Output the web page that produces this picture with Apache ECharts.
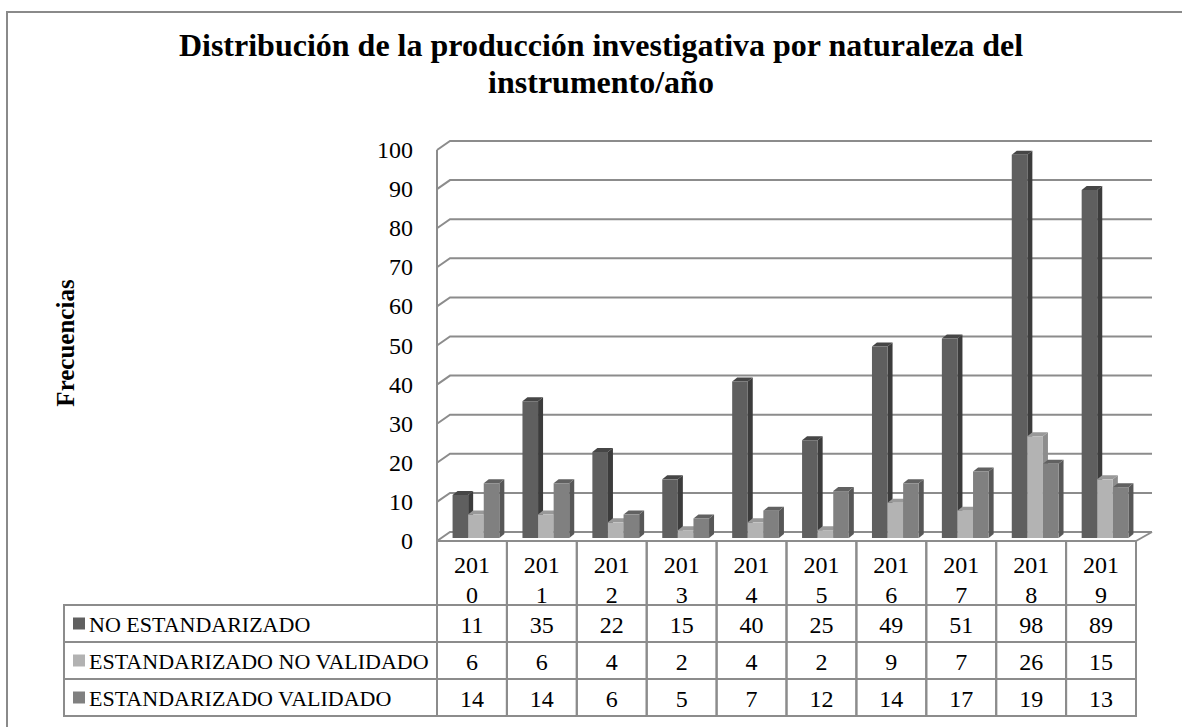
<!DOCTYPE html>
<html>
<head>
<meta charset="utf-8">
<title>Distribución de la producción investigativa</title>
<script src="https://cdn.jsdelivr.net/npm/echarts@6/dist/echarts.min.js"></script>
<style>
body{margin:0;background:#fff;}
#chart{width:1182px;height:727px;}
</style>
</head>
<body>
<div id="chart"></div>
<script>
/* =================================
   datos
================================= */

const years=["2010","2011","2012","2013","2014","2015","2016","2017","2018","2019"];

const seriesNames=[
"NO ESTANDARIZADO",
"ESTANDARIZADO NO VALIDADO",
"ESTANDARIZADO VALIDADO"
];

const noEstandarizado=[11,35,22,15,40,25,49,51,98,89];

const estNoValidado=[6,6,4,2,4,2,9,7,26,15];

const estValidado=[14,14,6,5,7,12,14,17,19,13];

const yTicks=[0,10,20,30,40,50,60,70,80,90,100];


const seriesValues=[noEstandarizado,estNoValidado,estValidado];


/* =================================
   estilo
================================= */

const FONT='"Liberation Serif","Times New Roman",serif';

const LINE="#8c8c8c";

// frente, lado, tapa
const faceColors=[
["#5f5f5f","#3c3c3c","#464646"],
["#b3b3b3","#8d8d8d","#999999"],
["#808080","#575757","#616161"]
];

const legendColors=["#606060","#b2b2b2","#808080"];

const DEPTH=[13,-9];
const RIGHT_DX=16;
const BAR_PLANE=[4,-3];
const BAR_DEPTH=[5,-4];
const BAR_RATIO=0.223;

const HEAD_H=64;
const ROW_H=37;
const LABEL_X=64;
const TITLE_X=601;


/* =================================
   paredes y lineas de division
================================= */

function renderWall(params,api){

let v=api.value(1);
let cs=params.coordSys;
let y=api.coord([0,v])[1];
let xl=cs.x;
let xr=cs.x+cs.width;

let children=[{
type:"polyline",
shape:{points:[[xl,y],[xl+DEPTH[0],y+DEPTH[1]],[xr+RIGHT_DX,y+DEPTH[1]]]},
style:{stroke:LINE,lineWidth:2,fill:"none"}
}];

if(v==yTicks[0]){

let yTop=api.coord([0,yTicks[yTicks.length-1]])[1];

children.push({
type:"line",
shape:{x1:xl,y1:yTop,x2:xl,y2:y},
style:{stroke:LINE,lineWidth:2}
});

children.push({
type:"line",
shape:{x1:xr,y1:y,x2:xr+RIGHT_DX,y2:y+DEPTH[1]},
style:{stroke:LINE,lineWidth:2}
});

}

return {type:"group",children:children};

}


/* =================================
   barras 3D
================================= */

function renderBar(s){

return function(params,api){

let i=api.value(0);
let v=api.value(1);

let base=api.coord([i,0]);
let top=api.coord([i,v]);
let w=api.size([1,0])[0]*BAR_RATIO;

let x0=base[0]+BAR_PLANE[0]+(s-1.5)*w;
let yb=base[1]+BAR_PLANE[1];
let yt=top[1]+BAR_PLANE[1];
let dx=BAR_DEPTH[0];
let dy=BAR_DEPTH[1];
let c=faceColors[s];

return {
type:"group",
children:[
{
type:"polygon",
shape:{points:[[x0+w,yt],[x0+w+dx,yt+dy],[x0+w+dx,yb+dy],[x0+w,yb]]},
style:{fill:c[1]}
},
{
type:"polygon",
shape:{points:[[x0,yt],[x0+w,yt],[x0+w+dx,yt+dy],[x0+dx,yt+dy]]},
style:{fill:c[2]}
},
{
type:"rect",
shape:{x:x0,y:yt,width:w,height:yb-yt},
style:{fill:c[0]}
}
]
};

};

}


/* =================================
   tabla de datos
================================= */

function renderTable(params,api){

let i=api.value(0);
let r=api.value(1);
let v=api.value(2);

let cs=params.coordSys;
let cx=api.coord([i,0])[0];
let w=api.size([1,0])[0];
let top=cs.y+cs.height;
let y0=top+HEAD_H+r*ROW_H;

let children=[
{
type:"rect",
shape:{x:cx-w/2,y:y0,width:w,height:ROW_H},
style:{fill:"none",stroke:LINE,lineWidth:2}
},
{
type:"text",
style:{
text:String(v),
x:cx,
y:y0+ROW_H/2+1,
align:"center",
verticalAlign:"middle",
font:"24px "+FONT,
fill:"#000"
}
}
];

if(r==0){

children.push({
type:"rect",
shape:{x:cx-w/2,y:top,width:w,height:HEAD_H},
style:{fill:"none",stroke:LINE,lineWidth:2}
});

}

return {type:"group",children:children};

}


let tableData=[];

seriesValues.forEach((vals,r)=>{

vals.forEach((v,i)=>{

tableData.push([i,r,v]);

});

});


/* =================================
   grafico
================================= */

let chart=echarts.init(document.getElementById("chart"),null,{renderer:"svg"});

const GRID={left:437,top:150,width:699,height:391};

let graphics=[

{
type:"rect",
shape:{x:7,y:12,width:1400,height:900},
style:{fill:"none",stroke:"#8a8a8a",lineWidth:2}
},

{
type:"text",
x:TITLE_X,
y:45,
style:{
text:"Distribución de la producción investigativa por naturaleza del",
font:"bold 32px "+FONT,
fill:"#000",
align:"center",
verticalAlign:"middle"
}
},

{
type:"text",
x:TITLE_X,
y:82,
style:{
text:"instrumento/año",
font:"bold 32px "+FONT,
fill:"#000",
align:"center",
verticalAlign:"middle"
}
},

{
type:"text",
x:65,
y:343,
rotation:Math.PI/2,
style:{
text:"Frecuencias",
font:"bold 25px "+FONT,
fill:"#000",
align:"center",
verticalAlign:"middle"
}
}

];


seriesNames.forEach((name,r)=>{

let y0=GRID.top+GRID.height+HEAD_H+r*ROW_H;

graphics.push({
type:"rect",
shape:{x:LABEL_X,y:y0,width:GRID.left-LABEL_X,height:ROW_H},
style:{fill:"none",stroke:LINE,lineWidth:2}
});

graphics.push({
type:"rect",
shape:{x:LABEL_X+9,y:y0+ROW_H/2-6,width:12,height:12},
style:{fill:legendColors[r]}
});

graphics.push({
type:"text",
x:LABEL_X+25,
y:y0+ROW_H/2+1,
style:{
text:name,
font:"22px "+FONT,
fill:"#000",
verticalAlign:"middle"
}
});

});


let series=[

{
type:"custom",
name:"paredes",
renderItem:renderWall,
data:yTicks.map(v=>[0,v]),
encode:{x:0,y:1},
z:1,
silent:true
}

];


seriesValues.forEach((vals,s)=>{

series.push({
type:"custom",
name:seriesNames[s],
renderItem:renderBar(s),
data:vals.map((v,i)=>[i,v]),
encode:{x:0,y:1},
z:3+s
});

});


series.push({
type:"custom",
name:"tabla",
renderItem:renderTable,
data:tableData,
encode:{x:0,y:1},
z:2,
silent:true
});


chart.setOption({

animation:false,

backgroundColor:"#fff",

grid:GRID,

xAxis:{
type:"category",
data:years,
axisLine:{show:false},
axisTick:{show:false},
splitLine:{show:false},
axisLabel:{
interval:0,
margin:9,
fontFamily:FONT,
fontSize:24,
lineHeight:30,
color:"#000",
formatter:v=>v.slice(0,3)+"\n"+v.slice(3)
}
},

yAxis:{
type:"value",
min:0,
max:100,
interval:10,
axisLine:{show:false},
axisTick:{show:false},
splitLine:{show:false},
axisLabel:{
margin:24,
fontFamily:FONT,
fontSize:24,
color:"#000"
}
},

graphic:graphics,

series:series

});

</script>
</body>
</html>
